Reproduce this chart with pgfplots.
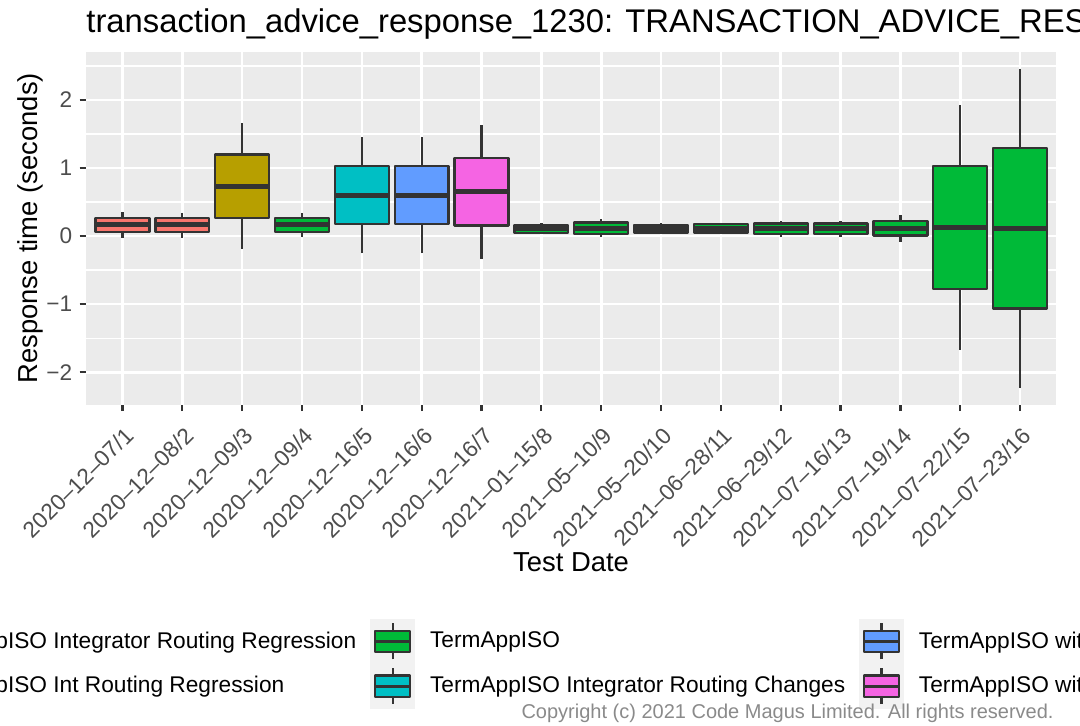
\documentclass[border=0pt]{standalone}
\usepackage{pgfplots}
\usepackage{pgfplotstable}
\pgfplotsset{compat=1.18}
\usepgfplotslibrary{statistics}
\usepackage{fontspec}
\setmainfont{Liberation Sans}
\definecolor{panelbg}{HTML}{EBEBEB}
\definecolor{grey20}{HTML}{333333}
\definecolor{grey30}{HTML}{4D4D4D}
\definecolor{keybg}{HTML}{F2F2F2}
\definecolor{copygrey}{HTML}{8A8A8A}
\definecolor{cR}{HTML}{F8766D}
\definecolor{cO}{HTML}{B79F00}
\definecolor{cG}{HTML}{00BA38}
\definecolor{cC}{HTML}{00BFC4}
\definecolor{cB}{HTML}{619CFF}
\definecolor{cP}{HTML}{F564E3}

\pgfplotstableread{
pos lw     lq     med    uq     uw
1   -0.022 0.065  0.173  0.262  0.350
2   -0.022 0.065  0.165  0.262  0.340
3   -0.184 0.262  0.736  1.200  1.656
4   -0.017 0.065  0.164  0.262  0.335
5   -0.253 0.173  0.599  1.035  1.450
6   -0.253 0.178  0.604  1.035  1.460
7   -0.330 0.154  0.653  1.152  1.632
8    0.030 0.050  0.105  0.163  0.190
9   -0.010 0.034  0.115  0.200  0.245
10   0.040 0.054  0.110  0.166  0.190
11   0.040 0.054  0.110  0.176  0.196
12  -0.010 0.030  0.118  0.186  0.225
13  -0.015 0.035  0.112  0.186  0.225
14  -0.086 0.007  0.115  0.223  0.310
15  -1.672 -0.776 0.125  1.030  1.920
16  -2.235 -1.065 0.110  1.290  2.460
}\boxdata

\newcommand{\bx}[2]{%
  \pgfplotstablegetelem{#1}{pos}\of\boxdata\edef\vpos{\pgfplotsretval}%
  \pgfplotstablegetelem{#1}{lw}\of\boxdata\edef\vlw{\pgfplotsretval}%
  \pgfplotstablegetelem{#1}{lq}\of\boxdata\edef\vlq{\pgfplotsretval}%
  \pgfplotstablegetelem{#1}{med}\of\boxdata\edef\vmed{\pgfplotsretval}%
  \pgfplotstablegetelem{#1}{uq}\of\boxdata\edef\vuq{\pgfplotsretval}%
  \pgfplotstablegetelem{#1}{uw}\of\boxdata\edef\vuw{\pgfplotsretval}%
  \edef\doplot{\noexpand\addplot[forget plot, draw=grey20, fill=#2, line width=1.15pt, line join=round,
    boxplot/draw direction=y,
    boxplot prepared={draw position=\vpos, lower whisker=\vlw, lower quartile=\vlq,
      median=\vmed, upper quartile=\vuq, upper whisker=\vuw}] coordinates {};}%
  \doplot}

\pgfplotsset{
  boxkey/.style={legend image code/.code={
    \fill[keybg] (0pt,-11pt) rectangle (22pt,11pt);
    \draw[grey20, line width=1.1pt] (11pt,-9pt) -- (11pt,9pt);
    \filldraw[fill=#1, draw=grey20, line width=1.2pt, line join=round] (2.3pt,-5.3pt) rectangle (19.7pt,5.3pt);
    \draw[grey20, line width=1.5pt] (2.3pt,0pt) -- (19.7pt,0pt);
  }}
}

\begin{document}
\begin{tikzpicture}
\useasboundingbox (0pt,0pt) rectangle (540pt,362.5pt);
\clip (0pt,0pt) rectangle (540pt,362.5pt);
\begin{axis}[
  at={(43pt,160.15pt)}, anchor=south west,
  scale only axis, width=485pt, height=176.35pt,
  xmin=0.39, xmax=16.6, ymin=-2.477, ymax=2.705,
  axis background/.style={fill=panelbg},
  axis line style={draw=none},
  tick pos=left, tick align=outside,
  major tick length=3.2pt, minor tick length=0pt,
  tick style={grey20, line width=1.1pt},
  xtick={1,...,16},
  xticklabels={2020–12–07/1,2020–12–08/2,2020–12–09/3,2020–12–09/4,2020–12–16/5,2020–12–16/6,2020–12–16/7,2021–01–15/8,2021–05–10/9,2021–05–20/10,2021–06–28/11,2021–06–29/12,2021–07–16/13,2021–07–19/14,2021–07–22/15,2021–07–23/16},
  ytick={-2,-1,0,1,2},
  yticklabels={−2,−1,0,1,2},
  minor ytick={-2.5,-1.5,-0.5,0.5,1.5,2.5},
  xmajorgrids, ymajorgrids, yminorgrids,
  major grid style={white, line width=1.3pt},
  minor grid style={white, line width=0.65pt},
  ticklabel style={font=\fontsize{11.3}{13}\selectfont, text=grey30},
  xticklabel style={yshift=-7pt, xshift=0.5pt, rotate=45, anchor=north east, inner sep=0pt},
  yticklabel style={inner sep=0pt, xshift=-3.5pt},
  xlabel={Test Date},
  xlabel style={at={(axis description cs:0.5,-0.4724)}, anchor=base, font=\fontsize{13.7}{16}\selectfont},
  ylabel={Response time (seconds)},
  ylabel style={at={(axis description cs:-0.05,0.5)}, anchor=base, font=\fontsize{13.7}{16}\selectfont},
  title={transaction\_advice\_response\_1230: TRANSACTION\_ADVICE\_RESPONSE},
  title style={at={(axis description cs:0,1.0212)}, anchor=base west, font=\fontsize{16.4}{19}\selectfont, inner sep=0pt},
  boxplot/draw direction=y,
  boxplot/box extend=0.9,
  boxplot/whisker extend=0,
  boxplot/every median/.style={line width=2.5pt},
  legend columns=2, transpose legend,
  legend cell align=left,
  legend style={draw=none, fill=none, inner sep=0pt, outer sep=0pt,
    at={(axis description cs:-0.2357,-0.6076)}, anchor=north west,
    font=\fontsize{11.35}{13}\selectfont,
    row sep=0pt,
    /tikz/every odd column/.append style={column sep=7.5pt},
    /tikz/every even column/.append style={column sep=7pt},
    nodes={inner sep=0pt}},
]
\bx{0}{cR}
\bx{1}{cR}
\bx{2}{cO}
\bx{3}{cG}
\bx{4}{cC}
\bx{5}{cB}
\bx{6}{cP}
\bx{7}{cG}
\bx{8}{cG}
\bx{9}{cG}
\bx{10}{cG}
\bx{11}{cG}
\bx{12}{cG}
\bx{13}{cG}
\bx{14}{cG}
\bx{15}{cG}
\addlegendimage{boxkey=cR}\addlegendentry{TermAppISO Integrator Routing Regression}
\addlegendimage{boxkey=cO}\addlegendentry{TermAppISO Int Routing Regression}
\addlegendimage{boxkey=cG}\addlegendentry{TermAppISO}
\addlegendimage{boxkey=cC}\addlegendentry{TermAppISO Integrator Routing Changes}
\addlegendimage{boxkey=cB}\addlegendentry{TermAppISO with Integrator Routing Changes}
\addlegendimage{boxkey=cP}\addlegendentry{TermAppISO with Int Routing Changes}
\end{axis}
\node[anchor=base east, text=copygrey, font=\fontsize{10}{12}\selectfont, inner sep=0pt] at (527pt,3.5pt) {Copyright (c) 2021 Code Magus Limited. All rights reserved.};
\end{tikzpicture}
\end{document}
